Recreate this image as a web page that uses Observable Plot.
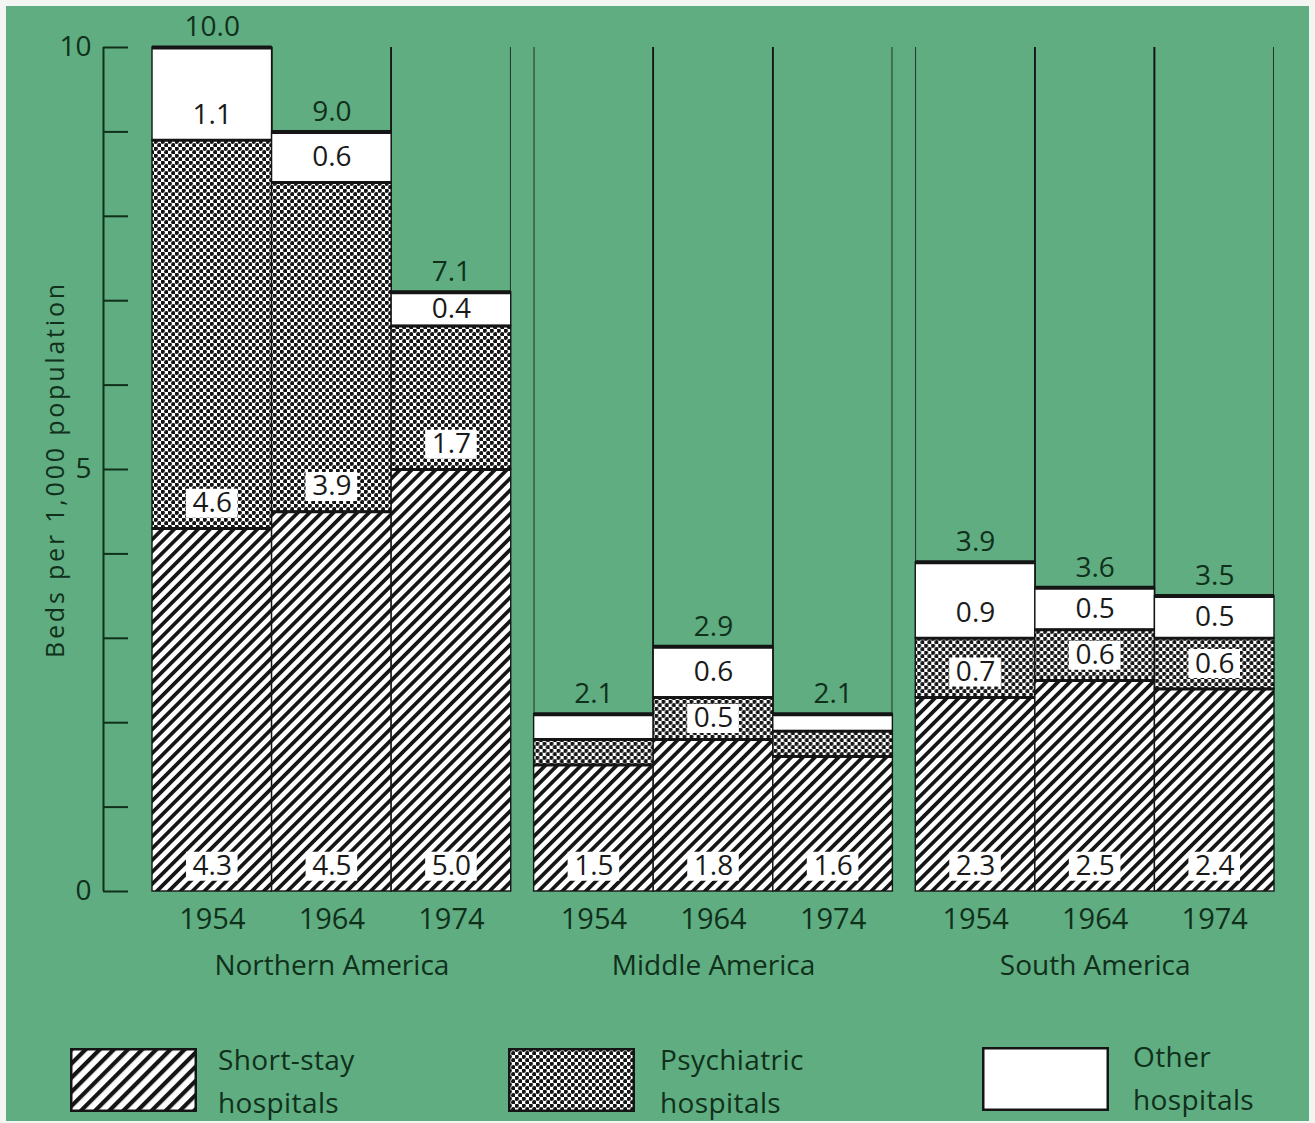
<!DOCTYPE html>
<html>
<head>
<meta charset="utf-8">
<script src="https://cdn.jsdelivr.net/npm/d3@7"></script>
<script src="https://cdn.jsdelivr.net/npm/@observablehq/plot@0.6"></script>
<style>
  html, body { margin: 0; padding: 0; background: #f3f5f3; }
  #page { position: relative; width: 1315px; height: 1123px; overflow: hidden; background: #f3f5f3; font-family: "Open Sans", sans-serif; }
  #green { position: absolute; left: 6px; top: 6px; width: 1303px; height: 1115px; background: #5fad80; }
  #chart { position: absolute; left: 0; top: 0; }
  .ylab text { letter-spacing: 2.8px; }
  .sw { position: absolute; }
  .lt { position: absolute; font-size: 28px; line-height: 43px; color: #10301b; letter-spacing: 0.4px; white-space: nowrap; }
</style>
</head>
<body>
<svg width="0" height="0" style="position:absolute">
  <defs>
    <pattern id="hatch" patternUnits="userSpaceOnUse" width="8.4" height="8.4" patternTransform="rotate(45)">
      <rect width="8.4" height="8.4" fill="#ffffff"></rect>
      <rect x="0" y="0" width="3.7" height="8.4" fill="#151515"></rect>
    </pattern>
    <pattern id="hatchL" patternUnits="userSpaceOnUse" width="10" height="10" patternTransform="rotate(45)">
      <rect width="10" height="10" fill="#ffffff"></rect>
      <rect x="0" y="0" width="4.2" height="10" fill="#151515"></rect>
    </pattern>
    <pattern id="dots" patternUnits="userSpaceOnUse" width="7" height="7">
      <rect width="7" height="7" fill="#ffffff"></rect>
      <circle cx="1.75" cy="1.75" r="2.15" fill="#151515"></circle>
      <circle cx="5.25" cy="5.25" r="2.15" fill="#151515"></circle>
    </pattern>
  </defs>
</svg>
<div id="page">
  <div id="green"></div>
  <div id="chart"></div>
  <div id="legend"></div>
</div>
<script>
// ---- data ----
const regions = ["Northern America", "Middle America", "South America"];
const years = ["1954", "1964", "1974"];
const types = ["Short-stay hospitals", "Psychiatric hospitals", "Other hospitals"];
const shortStay   = [4.3, 4.5, 5.0, 1.5, 1.8, 1.6, 2.3, 2.5, 2.4];
const psychiatric = [4.6, 3.9, 1.7, 0.3, 0.5, 0.3, 0.7, 0.6, 0.6];
const other       = [1.1, 0.6, 0.4, 0.3, 0.6, 0.2, 0.9, 0.5, 0.5];
const totals      = [10.0, 9.0, 7.1, 2.1, 2.9, 2.1, 3.9, 3.6, 3.5];
const yTicks = [0, 1, 2, 3, 4, 5, 6, 7, 8, 9, 10];
const yLabel = "Beds per 1,000 population";

const textColor = "#10301b";
const ink = "#151515";

// build tables
const rows = [];
const bars = [];
for (let i = 0; i < 9; i++) {
  const region = regions[Math.floor(i / 3)], year = years[i % 3];
  const vals = [shortStay[i], psychiatric[i], other[i]];
  let y0 = 0;
  vals.forEach((v, k) => {
    const labelY = k === 0 ? 0.3 : y0 + Math.min(v / 2, 0.3);
    rows.push({region, year, type: types[k], k, value: v, y0, y1: y0 + v, labelY, show: k === 0 || v >= 0.4});
    y0 += v;
  });
  bars.push({region, year, total: totals[i], top: y0});
}
const separators = rows.filter(d => d.k < 2);
const labelled = rows.filter(d => d.show);
const boxed = labelled.filter(d => d.k < 2);

// geometry
const W = 1315, H = 1000, mL = 152, mR = 41, mT = 47, mB = 109;
const fxPad = 0.06;
const fxBand = d3.scaleBand(regions, [mL, W - mR]).paddingInner(fxPad).paddingOuter(0);
const bw = fxBand.bandwidth() / 3;
const axisX = 103;

const chart = Plot.plot({
  width: W, height: H,
  marginTop: mT, marginBottom: mB, marginLeft: mL, marginRight: mR,
  style: {background: "transparent", fontFamily: "Open Sans, sans-serif", color: textColor},
  fx: {domain: regions, paddingInner: fxPad, paddingOuter: 0, round: false, label: null},
  x: {domain: years, padding: 0, round: false, label: null},
  y: {domain: [0, 10], label: null},
  color: {type: "ordinal", domain: types, range: ["url(#hatch)", "url(#dots)", "#ffffff"]},
  marks: [
    // full-height bar outlines (dividers)
    Plot.barY(bars, {x: "year", fx: "region", y1: 0, y2: 10.6, fill: "none", stroke: ink, strokeWidth: 1.6, clip: true}),
    // stacked segments
    Plot.barY(rows, {x: "year", fx: "region", y1: "y0", y2: "y1", fill: "type", stroke: ink, strokeWidth: 1.4}),
    // segment separators and tops
    Plot.tickY(separators, {x: "year", fx: "region", y: "y1", stroke: ink, strokeWidth: 3}),
    Plot.tickY(bars, {x: "year", fx: "region", y: "top", stroke: ink, strokeWidth: 4}),
    // white label boxes
    Plot.tickY(boxed, {x: "year", fx: "region", y: "labelY", stroke: "#ffffff", strokeWidth: 29, insetLeft: 34, insetRight: 34}),
    // segment labels
    Plot.text(labelled, {x: "year", fx: "region", y: "labelY", text: d => d.value.toFixed(1), fontSize: 28, fill: "#1a1a1a"}),
    // totals
    Plot.text(bars, {x: "year", fx: "region", y: "top", text: d => d.total.toFixed(1), dy: -20, fontSize: 28, fill: textColor}),
    // y axis
    Plot.axisY({ticks: yTicks, tickSize: 25, tickPadding: 12, dx: -24, tickFormat: d => (d % 5 === 0 ? String(d) : ""), fontSize: 28, stroke: textColor, strokeWidth: 2, fill: textColor, label: null}),
    Plot.ruleX([years[0]], {x: d => d, fx: () => regions[0], y1: 0, y2: 10, dx: axisX - (mL + bw / 2), stroke: textColor, strokeWidth: 2}),
    Plot.text([yLabel], {text: d => d, fx: () => regions[0], frameAnchor: "left", textAnchor: "middle", rotate: -90, dx: 55 - mL, fontSize: 25, fill: textColor, className: "ylab"}),
    // x axes
    Plot.axisX({tickSize: 0, tickPadding: 17, fontSize: 29, fill: textColor, label: null}),
    Plot.axisFx({anchor: "bottom", tickSize: 0, tickPadding: 64, fontSize: 28, fill: textColor, label: null})
  ]
});
document.getElementById("chart").appendChild(chart);

// ---- legend ----
const legendItems = [
  {type: types[0], fill: "url(#hatchL)", lines: ["Short-stay", "hospitals"], sx: 70, sy: 1048, tx: 218, ty: 1038},
  {type: types[1], fill: "url(#dots)", lines: ["Psychiatric", "hospitals"], sx: 508, sy: 1048, tx: 660, ty: 1038},
  {type: types[2], fill: "#ffffff", lines: ["Other", "hospitals"], sx: 982, sy: 1047, tx: 1133, ty: 1035}
];
const legend = document.getElementById("legend");
for (const it of legendItems) {
  const ns = "http://www.w3.org/2000/svg";
  const s = document.createElementNS(ns, "svg");
  s.setAttribute("class", "sw");
  s.setAttribute("width", 127); s.setAttribute("height", 64);
  s.style.left = it.sx + "px"; s.style.top = it.sy + "px";
  const r = document.createElementNS(ns, "rect");
  r.setAttribute("x", 1.25); r.setAttribute("y", 1.25); r.setAttribute("width", 124.5); r.setAttribute("height", 61.5);
  r.setAttribute("fill", it.fill); r.setAttribute("stroke", ink); r.setAttribute("stroke-width", 2.5);
  s.appendChild(r);
  legend.appendChild(s);
  const t = document.createElement("div");
  t.className = "lt";
  t.style.left = it.tx + "px"; t.style.top = it.ty + "px";
  t.innerHTML = it.lines.join("<br>");
  legend.appendChild(t);
}
</script>
</body>
</html>
